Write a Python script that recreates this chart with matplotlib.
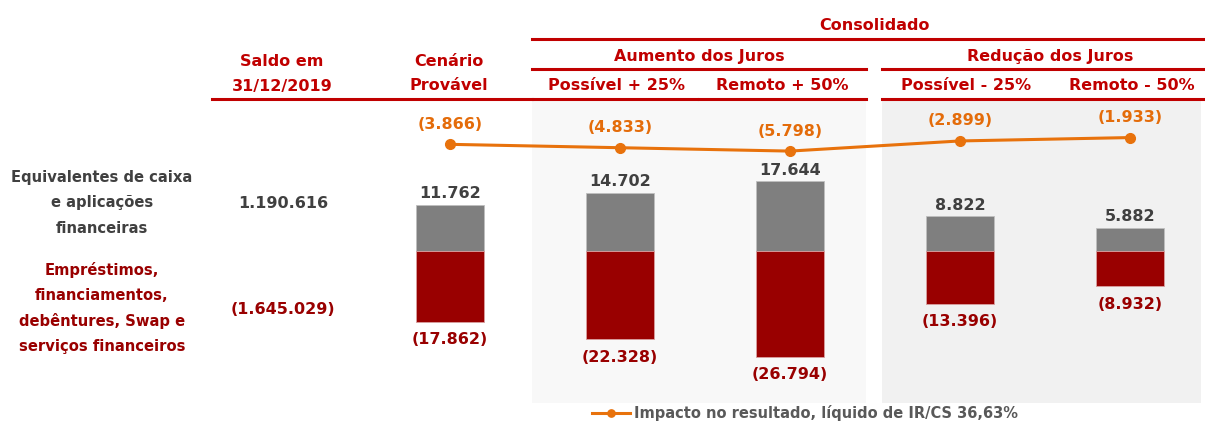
import matplotlib.pyplot as plt
from matplotlib.lines import Line2D

# valores em R$ mil
cenarios = ["Cenário\nProvável", "Possível + 25%", "Remoto + 50%", "Possível - 25%", "Remoto - 50%"]
aplicacoes = [11762, 14702, 17644, 8822, 5882]
emprestimos = [-17862, -22328, -26794, -13396, -8932]
impacto = [-3866, -4833, -5798, -2899, -1933]
saldo_aplicacoes = 1190616
saldo_emprestimos = -1645029

VERMELHO = "#c00000"
VINHO = "#990000"
CINZA = "#7f7f7f"
TEXTO = "#404040"
LARANJA = "#e46c0a"

W, H = 1205, 424


def fx(px):
    return px / W


def fy(py):
    return 1 - py / H


def fmt(v):
    s = f"{abs(v):,}".replace(",", ".")
    return f"({s})" if v < 0 else s


plt.rcParams["font.family"] = ["DejaVu Sans"]
plt.rcParams["font.weight"] = "bold"

fig = plt.figure(figsize=(W / 100, H / 100), dpi=100)
ax = fig.add_axes([0, 0, 1, 1])

# geometria: centro do 1o cenário em 450px, passo de 170px
x0, passo = 450, 170
ax.set_xlim(-x0 / passo, (W - x0) / passo)
base, escala = 251, 3.95 / 1000
ax.set_ylim(-(H - base) / escala, base / escala)
ax.axis("off")

x = list(range(len(cenarios)))

# fundos dos blocos de aumento / redução
ax.axvspan(0.482, 2.447, ymin=fy(403), ymax=fy(101), color="#f8f8f8", lw=0, zorder=0)
ax.axvspan(2.541, 4.42, ymin=fy(403), ymax=fy(101), color="#f1f1f1", lw=0, zorder=0)

ax.bar(x, aplicacoes, width=0.4, color=CINZA, edgecolor="#bfbfbf", linewidth=0.6, zorder=2)
ax.bar(x, emprestimos, width=0.4, color=VINHO, edgecolor="#d9a0a0", linewidth=0.6, zorder=2)

for xi, v in zip(x, aplicacoes):
    ax.annotate(fmt(v), (xi, v), xytext=(0, 11), textcoords="offset pixels",
                ha="center", va="center", fontsize=11.5, color=TEXTO)
for xi, v in zip(x, emprestimos):
    ax.annotate(fmt(v), (xi, v), xytext=(0, -18), textcoords="offset pixels",
                ha="center", va="center", fontsize=11.5, color=VINHO)

# linha de impacto em eixo próprio
ax2 = ax.twinx()
ax2.set_position([0, 0, 1, 1])
ax2.set_xlim(ax.get_xlim())
zero, esc2 = 130.8, 3.5 / 1000
ax2.set_ylim(-(H - zero) / esc2, zero / esc2)
ax2.axis("off")
ax2.plot(x, impacto, color="#e8720c", lw=2.2, marker="o", ms=7,
         label="Impacto no resultado, líquido de IR/CS 36,63%", zorder=3)
for xi, v in zip(x, impacto):
    ax2.annotate(fmt(v), (xi, v), xytext=(0, 20), textcoords="offset pixels",
                 ha="center", va="center", fontsize=11.5, color=LARANJA)

leg = ax2.legend(loc="center left", bbox_to_anchor=(fx(592), fy(413)), frameon=False,
                 handlelength=2.6, handletextpad=0.3, borderpad=0, borderaxespad=0,
                 markerscale=0.75, prop={"size": 10.5, "weight": "bold"})
for t in leg.get_texts():
    t.set_color("#595959")

# cabeçalho
cab = dict(ha="center", va="center", fontsize=11.5, color=VERMELHO)
fig.text(fx(875), fy(25), "Consolidado", **cab)
fig.text(fx(699), fy(56), "Aumento dos Juros", **cab)
fig.text(fx(1050), fy(56), "Redução dos Juros", **cab)
fig.text(fx(282), fy(61), "Saldo em", **cab)
fig.text(fx(282), fy(86), "31/12/2019", **cab)
fig.text(fx(449), fy(61), cenarios[0].split("\n")[0], **cab)
fig.text(fx(449), fy(86), cenarios[0].split("\n")[1], **cab)
for px, nome in zip([616, 782, 966, 1132], cenarios[1:]):
    fig.text(fx(px), fy(86), nome, **cab)

linhas = [
    (532, 1205, 39),
    (532, 866, 69),
    (882, 1205, 69),
    (212, 532, 99),
    (533, 697, 99),
    (699, 866, 99),
    (882, 1205, 99),
]
for xa, xb, yy in linhas:
    fig.add_artist(Line2D([fx(xa), fx(xb)], [fy(yy), fy(yy)], color=VERMELHO, lw=2.2))

# rótulos das linhas
fig.text(fx(102), fy(203), "Equivalentes de caixa\ne aplicações\nfinanceiras",
         ha="center", va="center", fontsize=10.6, color=TEXTO, linespacing=1.85)
fig.text(fx(102), fy(308), "Empréstimos,\nfinanciamentos,\ndebêntures, Swap e\nserviços financeiros",
         ha="center", va="center", fontsize=10.6, color=VINHO, linespacing=1.82)
fig.text(fx(283), fy(203), fmt(saldo_aplicacoes), ha="center", va="center",
         fontsize=11.5, color=TEXTO)
fig.text(fx(283), fy(310), fmt(saldo_emprestimos), ha="center", va="center",
         fontsize=11.5, color=VINHO)

fig.savefig("out.png", dpi=100)
